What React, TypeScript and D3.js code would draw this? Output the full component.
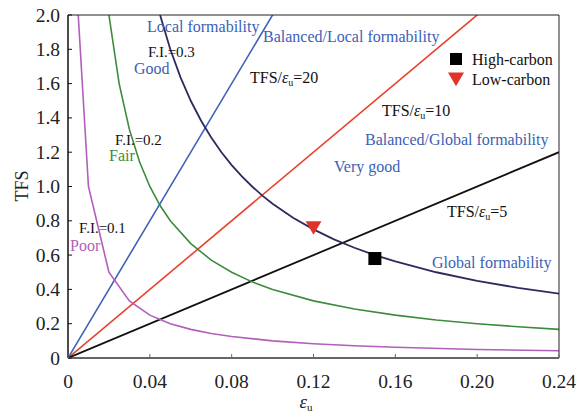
import React from "react";
import * as d3 from "d3";

const xTicks = [0, 0.04, 0.08, 0.12, 0.16, 0.2, 0.24];
const xTickLabels = ["0", "0.04", "0.08", "0.12", "0.16", "0.20", "0.24"];
const yTicks = [0, 0.2, 0.4, 0.6, 0.8, 1.0, 1.2, 1.4, 1.6, 1.8, 2.0];
const yTickLabels = ["0", "0.2", "0.4", "0.6", "0.8", "1.0", "1.2", "1.4", "1.6", "1.8", "2.0"];

// Ratio lines TFS/eu = 20, 10, 5
const lineX = [0, 0.24];
const ratio20 = [0, 4.8];
const ratio10 = [0, 2.4];
const ratio5 = [0, 1.2];

// F.I. curves
const fi03X = [0.045, 0.05, 0.055, 0.06, 0.065, 0.07, 0.075, 0.08, 0.085, 0.09, 0.095, 0.1, 0.11, 0.12, 0.13, 0.14, 0.15, 0.16, 0.18, 0.2, 0.22, 0.24];
const fi03Y = [2.0, 1.8, 1.636, 1.5, 1.385, 1.286, 1.2, 1.125, 1.059, 1.0, 0.947, 0.9, 0.818, 0.75, 0.692, 0.643, 0.6, 0.563, 0.5, 0.45, 0.409, 0.375];
const fi02X = [0.02, 0.025, 0.03, 0.035, 0.04, 0.045, 0.05, 0.06, 0.07, 0.08, 0.09, 0.1, 0.12, 0.14, 0.16, 0.18, 0.2, 0.22, 0.24];
const fi02Y = [2.0, 1.6, 1.333, 1.143, 1.0, 0.889, 0.8, 0.667, 0.571, 0.5, 0.444, 0.4, 0.333, 0.286, 0.25, 0.222, 0.2, 0.182, 0.167];
const fi01X = [0.005, 0.01, 0.02, 0.03, 0.04, 0.05, 0.06, 0.07, 0.08, 0.1, 0.12, 0.14, 0.16, 0.2, 0.24];
const fi01Y = [2.0, 1.0, 0.5, 0.333, 0.25, 0.2, 0.167, 0.143, 0.125, 0.1, 0.083, 0.071, 0.0625, 0.05, 0.042];

// Markers
const highCarbon = { x: 0.15, y: 0.58 };
const lowCarbon = { x: 0.12, y: 0.76 };

const FONT = "'Liberation Serif', 'Times New Roman', serif";
const BLUE_TXT = "#3b5fb5";

const W = 588, H = 417;
const L = 68, T = 15, R = 559, B = 358;

export default function App() {
  const x = d3.scaleLinear().domain([0, 0.24]).range([L, R]);
  const y = d3.scaleLinear().domain([0, 2]).range([B, T]);
  const line = d3.line<[number, number]>().x(d => x(d[0])).y(d => y(d[1]));
  const mk = (xs: number[], ys: number[]) => line(xs.map((v, i) => [v, ys[i]] as [number, number])) || "";

  const Ratio = ({ label, tx, ty }: { label: string; tx: number; ty: number }) => (
    <text x={tx} y={ty} fontSize={16} fontFamily={FONT} fill="#111">
      TFS/<tspan fontStyle="italic">ε</tspan><tspan fontSize={10} dy={3}>u</tspan><tspan dy={-3}>={label}</tspan>
    </text>
  );

  const tri = (cx: number, cy: number, s: number) =>
    `M${cx - s},${cy - s * 0.8}L${cx + s},${cy - s * 0.8}L${cx},${cy + s * 0.9}Z`;

  return (
    <svg width={W} height={H} style={{ position: "absolute", left: 0, top: 0, background: "#fff" }}>
      <defs>
        <clipPath id="plot">
          <rect x={L} y={T} width={R - L} height={B - T} />
        </clipPath>
      </defs>
      <rect x={0} y={0} width={W} height={H} fill="#fff" />
      <g clipPath="url(#plot)" fill="none" strokeWidth={1.6}>
        <path d={mk(lineX, ratio20)} stroke="#3f63b8" />
        <path d={mk(lineX, ratio10)} stroke="#e8412c" />
        <path d={mk(lineX, ratio5)} stroke="#111" strokeWidth={1.8} />
        <path d={mk(fi03X, fi03Y)} stroke="#2b2b5e" strokeWidth={1.8} />
        <path d={mk(fi02X, fi02Y)} stroke="#3d8b3d" />
        <path d={mk(fi01X, fi01Y)} stroke="#b25ebb" />
      </g>
      {/* frame */}
      <line x1={L} y1={T} x2={R} y2={T} stroke="#222" strokeWidth={1} />
      <line x1={R} y1={T} x2={R} y2={B} stroke="#222" strokeWidth={1} />
      <line x1={L} y1={T} x2={L} y2={B} stroke="#111" strokeWidth={1.5} />
      <line x1={L} y1={B} x2={R} y2={B} stroke="#666" strokeWidth={2} />
      {/* ticks */}
      {yTicks.map((t, i) => (
        <g key={"y" + i}>
          <line x1={L} x2={L + 4} y1={y(t)} y2={y(t)} stroke="#111" strokeWidth={1} />
          <text x={60} y={y(t) + 6.5} textAnchor="end" fontSize={19.5} fontFamily={FONT} fill="#222">{yTickLabels[i]}</text>
        </g>
      ))}
      {xTicks.map((t, i) => (
        <g key={"x" + i}>
          <line x1={x(t)} x2={x(t)} y1={B} y2={B - 4} stroke="#666" strokeWidth={1} />
          <text x={x(t)} y={388} textAnchor="middle" fontSize={19.5} fontFamily={FONT} fill="#222">{xTickLabels[i]}</text>
        </g>
      ))}
      {/* axis titles */}
      <text transform="translate(28,186) rotate(-90)" textAnchor="middle" fontSize={18} fontFamily={FONT} fill="#222">TFS</text>
      <text x={306} y={408} textAnchor="middle" fontSize={19} fontFamily={FONT} fill="#222">
        <tspan fontStyle="italic">ε</tspan><tspan fontSize={11} dy={3}>u</tspan>
      </text>
      {/* markers */}
      <rect x={x(highCarbon.x) - 6.5} y={y(highCarbon.y) - 6.5} width={13} height={13} fill="#000" />
      <path d={tri(x(lowCarbon.x), y(lowCarbon.y), 8)} fill="#e0342a" />
      {/* legend */}
      <rect x={450} y={53} width={12} height={12} fill="#000" />
      <text x={472} y={65} fontSize={16} fontFamily={FONT} fill="#111">High-carbon</text>
      <path d={tri(456, 79, 8)} fill="#e0342a" />
      <text x={472} y={85} fontSize={16} fontFamily={FONT} fill="#111">Low-carbon</text>
      {/* annotations */}
      <text x={147} y={32} fontSize={16} fontFamily={FONT} fill={BLUE_TXT}>Local formability</text>
      <text x={263} y={42} fontSize={16} fontFamily={FONT} fill={BLUE_TXT}>Balanced/Local formability</text>
      <text x={148} y={57} fontSize={15} fontFamily={FONT} fill="#111">F.I.=0.3</text>
      <text x={134} y={74} fontSize={16} fontFamily={FONT} fill={BLUE_TXT}>Good</text>
      <Ratio label="20" tx={250} ty={83} />
      <Ratio label="10" tx={382} ty={116} />
      <text x={365} y={145} fontSize={16} fontFamily={FONT} fill={BLUE_TXT}>Balanced/Global formability</text>
      <text x={334} y={172} fontSize={16} fontFamily={FONT} fill={BLUE_TXT}>Very good</text>
      <text x={115} y={145} fontSize={15} fontFamily={FONT} fill="#111">F.I.=0.2</text>
      <text x={109} y={161} fontSize={16} fontFamily={FONT} fill="#3d8b3d">Fair</text>
      <text x={79} y={233} fontSize={15} fontFamily={FONT} fill="#111">F.I.=0.1</text>
      <text x={70} y={251} fontSize={16} fontFamily={FONT} fill="#b25ebb">Poor</text>
      <Ratio label="5" tx={447} ty={217} />
      <text x={432} y={268} fontSize={16} fontFamily={FONT} fill={BLUE_TXT}>Global formability</text>
    </svg>
  );
}
